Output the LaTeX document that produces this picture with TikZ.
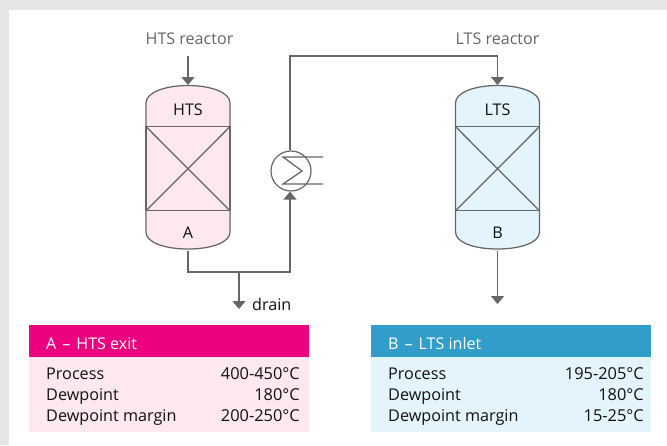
\documentclass[tikz,border=0pt]{standalone}
\usepackage{fontspec}
\setmainfont{Open Sans}
\usetikzlibrary{arrows.meta}
\definecolor{pageGrey}{HTML}{E3E5E6}
\definecolor{lineGrey}{HTML}{666666}
\definecolor{inkDark}{HTML}{111111}
\definecolor{magentaHead}{HTML}{EC0080}
\definecolor{pinkFill}{HTML}{FEE8EF}
\definecolor{blueHead}{HTML}{329CCB}
\definecolor{blueFill}{HTML}{E3F4FC}
\tikzset{
  pipe/.style={draw=lineGrey,line width=1.3pt},
  flow/.style={pipe,-{Triangle[length=8pt,width=13pt]}},
  thin part/.style={draw=lineGrey,line width=1.25pt},
  cap label/.style={text=lineGrey,font=\fontsize{16.1}{18}\selectfont,anchor=base,inner sep=0pt},
  vessel label/.style={text=inkDark,font=\fontsize{16.1}{18}\selectfont,anchor=base,inner sep=0pt},
  row left/.style={text=inkDark,font=\fontsize{16.2}{18}\selectfont,anchor=base west,inner sep=0pt},
  row right/.style={text=inkDark,font=\fontsize{16.4}{18}\selectfont,anchor=base east,inner sep=0pt},
  head label/.style={text=white,font=\fontsize{16.1}{18}\selectfont,anchor=base west,inner sep=0pt},
}
\newcommand{\vesselshape}[3]{%
  % #1 centre x, #2 fill, #3 name
  \fill[#2] (#1-42,103) .. controls (#1-42,92) and (#1-22,85.5) .. (#1,85.5)
     .. controls (#1+22,85.5) and (#1+42,92) .. (#1+42,103)
     -- (#1+42,232) .. controls (#1+42,243) and (#1+22,249) .. (#1,249)
     .. controls (#1-22,249) and (#1-42,243) .. (#1-42,232) -- cycle;
  \draw[thin part] (#1-42,103) .. controls (#1-42,92) and (#1-22,85.5) .. (#1,85.5)
     .. controls (#1+22,85.5) and (#1+42,92) .. (#1+42,103)
     -- (#1+42,232) .. controls (#1+42,243) and (#1+22,249) .. (#1,249)
     .. controls (#1-22,249) and (#1-42,243) .. (#1-42,232) -- cycle;
  \coordinate (#3tl) at (#1-42,126.6);
  \coordinate (#3tr) at (#1+42,126.6);
  \coordinate (#3bl) at (#1-42,210.8);
  \coordinate (#3br) at (#1+42,210.8);
  \coordinate (#3top) at (#1,85);
  \coordinate (#3bot) at (#1,251);
  \draw[thin part] (#3tl) rectangle (#3br);
  \draw[thin part] (#3tl) -- (#3br) (#3tr) -- (#3bl);
}
\begin{document}
\begin{tikzpicture}[x=1pt,y=-1pt]
\useasboundingbox (0,0) rectangle (667,445);
\fill[pageGrey] (0,0) rectangle (667,445);
\fill[white] (9,10) rectangle (667,445);

\vesselshape{188}{pinkFill}{hts}
\vesselshape{497.5}{blueFill}{lts}

\node[vessel label] (htsname) at (188,115) {HTS};
\node[vessel label] (aname) at (188,238) {A};
\node[vessel label] (ltsname) at (497.5,115) {LTS};
\node[vessel label] (bname) at (497.5,238) {B};

\node[cap label] (htsin) at (189.5,44) {HTS reactor};
\node[cap label] (ltsin) at (497.5,44) {LTS reactor};

% heat exchanger
\node[circle,draw=lineGrey,line width=1.2pt,fill=white,minimum size=40pt,inner sep=0pt] (hx) at (291,171) {};
\coordinate (hxa) at (323,157);
\coordinate (hxb) at (283,157);
\coordinate (hxc) at (302,171);
\coordinate (hxd) at (283,184);
\coordinate (hxe) at (323,184);
\draw[thin part] (hxa) -- (hxb) -- (hxc) -- (hxd) -- (hxe);

% connectors
\coordinate (htsfeed) at (188,56);
\coordinate (pipetop) at (290,56);
\coordinate (lowrun) at (188,272);
\coordinate (lowright) at (290,272);
\coordinate (teept) at (239,272);
\coordinate (draintip) at (239,309);
\coordinate (ltsout) at (497.5,304);
\draw[flow] (htsfeed) -- (htstop);
\draw[flow] (hx.north -| pipetop) -- (pipetop) -- (ltstop |- pipetop) -- (ltstop);
\draw[flow] (htsbot) -- (lowrun) -- (lowright) -- (hx.south -| lowright);
\draw[flow] (teept) -- (draintip);
\draw[flow] (ltsbot) -- (ltsout);
\node[vessel label,anchor=base west] (drainlabel) at (252,310) {drain};

% table A
\fill[pinkFill] (29,357) rectangle (309,431.5);
\fill[magentaHead] (29,325) rectangle (309,357);
\node[head label] (ah) at (46,349) {A\hspace{6pt}–\hspace{6pt}HTS exit};
\node[row left] (a1) at (46,379) {Process};
\node[row left] (a2) at (46,400) {Dewpoint};
\node[row left] (a3) at (46,421) {Dewpoint margin};
\node[row right] (a1v) at (300,379) {400-450°C};
\node[row right] (a2v) at (300,400) {180°C};
\node[row right] (a3v) at (300,421) {200-250°C};

% table B
\fill[blueFill] (371,357) rectangle (651,431.5);
\fill[blueHead] (371,325) rectangle (651,357);
\node[head label] (bh) at (388,349) {B\hspace{6pt}–\hspace{6pt}LTS inlet};
\node[row left] (b1) at (388,379) {Process};
\node[row left] (b2) at (388,400) {Dewpoint};
\node[row left] (b3) at (388,421) {Dewpoint margin};
\node[row right] (b1v) at (644,379) {195-205°C};
\node[row right] (b2v) at (644,400) {180°C};
\node[row right] (b3v) at (644,421) {15-25°C};
\end{tikzpicture}
\end{document}
